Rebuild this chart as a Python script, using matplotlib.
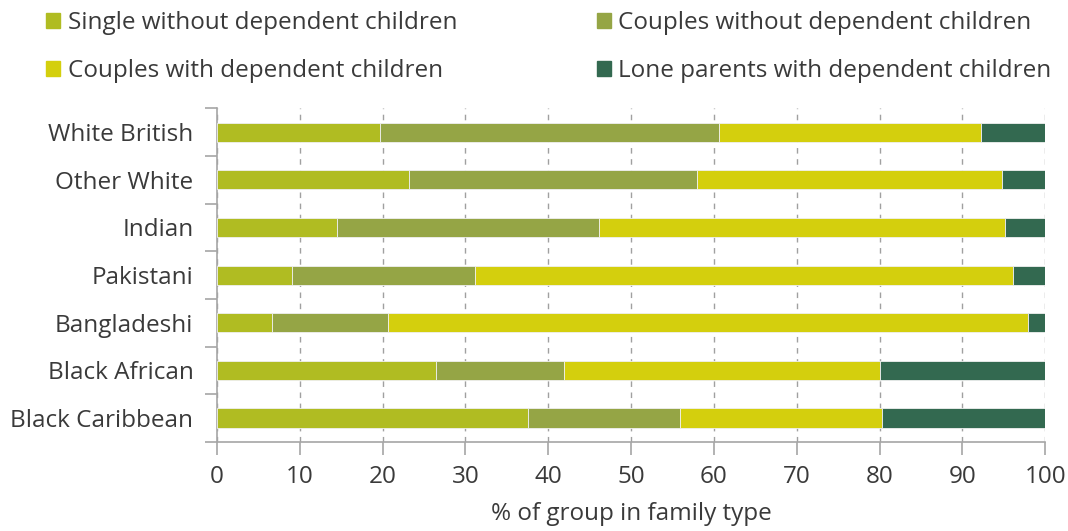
import matplotlib.pyplot as plt
from matplotlib.patches import Patch
import numpy as np

plt.rcParams['font.family'] = ['Open Sans', 'DejaVu Sans']

groups = ['White British', 'Other White', 'Indian', 'Pakistani',
          'Bangladeshi', 'Black African', 'Black Caribbean']
single_no_kids = [19.7, 23.2, 14.5, 9.0, 6.6, 26.4, 37.6]
couples_no_kids = [40.9, 34.8, 31.6, 22.2, 14.0, 15.5, 18.3]
couples_kids = [31.7, 36.8, 49.0, 64.9, 77.3, 38.2, 24.4]
lone_parents = [7.7, 5.2, 4.9, 3.9, 2.1, 19.9, 19.7]

series = [
    ('Single without dependent children', single_no_kids, '#b0bc22'),
    ('Couples without dependent children', couples_no_kids, '#95a545'),
    ('Couples with dependent children', couples_kids, '#d4cf0d'),
    ('Lone parents with dependent children', lone_parents, '#336950'),
]

text_col = '#3a3a3a'
axis_col = '#a6a6a6'
fs = 17.5

fig = plt.figure(figsize=(10.68, 5.31), dpi=100)
ax = fig.add_axes([0.2032, 0.168, 0.7755, 0.628])

y = np.arange(len(groups))
left = np.zeros(len(groups))
handles = {}
for name, vals, col in series:
    ax.barh(y, vals, left=left, height=0.4, color=col,
            edgecolor='#f0f0f0', linewidth=0.6, zorder=3)
    left += np.array(vals)
    handles[name] = Patch(color=col)

ax.set_xlim(0, 100)
ax.set_ylim(len(groups) - 0.5, -0.5)
ax.set_xticks(np.arange(0, 101, 10))
ax.xaxis.grid(True, linestyle=(0, (4, 4)), color='#a0a0a0', linewidth=1, zorder=0)

# labels at bar centres, tick marks at category boundaries
ax.set_yticks(np.arange(-0.5, len(groups)), labels=[''] * (len(groups) + 1))
ax.set_yticks(y, labels=groups, minor=True)
ax.tick_params(axis='y', which='major', length=9, color=axis_col, width=1.2)
ax.tick_params(axis='y', which='minor', length=0, pad=17,
               labelsize=fs, labelcolor=text_col)
ax.tick_params(axis='x', length=9, color=axis_col, width=1.2,
               labelsize=fs, labelcolor=text_col, pad=8)

for s in ['top', 'right']:
    ax.spines[s].set_visible(False)
for s in ['left', 'bottom']:
    ax.spines[s].set_color(axis_col)
    ax.spines[s].set_linewidth(1.2)

ax.set_xlabel('% of group in family type', fontsize=fs, color=text_col, labelpad=9)

order = [series[0][0], series[2][0], series[1][0], series[3][0]]
fig.legend([handles[n] for n in order], order, ncol=2, loc='upper left',
           bbox_to_anchor=(0.04, 0.986), frameon=False, fontsize=fs,
           labelcolor=text_col, handlelength=0.58, handleheight=0.58,
           handletextpad=0.3, columnspacing=5.75, labelspacing=0.98,
           borderpad=0.15, borderaxespad=0)

fig.savefig('out.png', dpi=100)
